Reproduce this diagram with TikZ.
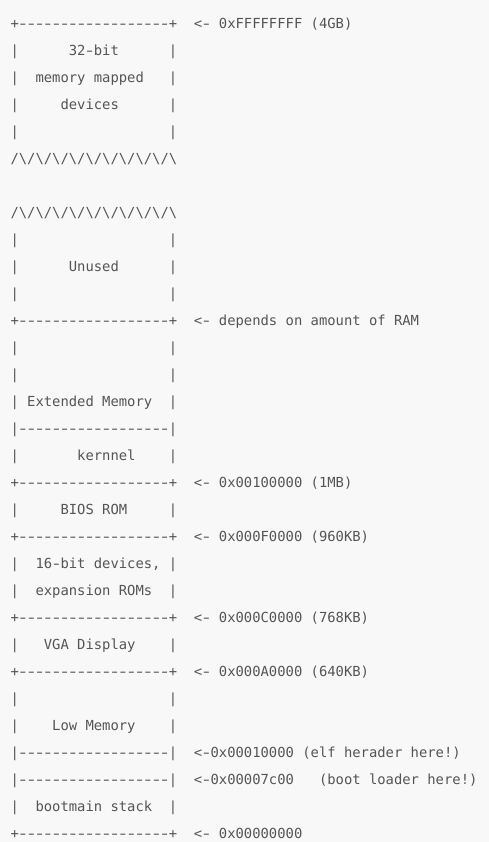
\documentclass[tikz,border=0pt]{standalone}
\usepackage{fontspec}
\usepackage{graphicx}
\setmonofont{DejaVu Sans Mono}
\definecolor{bgcol}{HTML}{F8F8F8}
\definecolor{txtcol}{HTML}{555555}
\newcommand\bsl{\textbackslash}
\newcommand\hy{\makebox[0.60205em][c]{\scalebox{1.4}[1]{-}}}
\newcommand\dashrow{\hy\hy\hy\hy\hy\hy\hy\hy\hy\hy\hy\hy\hy\hy\hy\hy\hy\hy}
\tikzset{
  asciiline/.style={anchor=base west, inner sep=0pt, outer sep=0pt, text=txtcol,
    font=\ttfamily\fontsize{13.85}{27}\selectfont}
}
\begin{document}
\begin{tikzpicture}[x=1pt,y=1pt]
\fill[bgcol] (0,0) rectangle (489,842);
\useasboundingbox (0,0) rectangle (489,842);
\def\X{10.5}
\node[asciiline] (l1)  at (\X,{842-28.3-27*0})  {+\dashrow+~~<\hy~0xFFFFFFFF~(4GB)};
\node[asciiline] (l2)  at (\X,{842-28.3-27*1})  {|~~~~~~32\hy bit~~~~~~|};
\node[asciiline] (l3)  at (\X,{842-28.3-27*2})  {|~~memory~mapped~~~|};
\node[asciiline] (l4)  at (\X,{842-28.3-27*3})  {|~~~~~devices~~~~~~|};
\node[asciiline] (l5)  at (\X,{842-28.3-27*4})  {|~~~~~~~~~~~~~~~~~~|};
\node[asciiline] (l6)  at (\X,{842-28.3-27*5})  {/\bsl/\bsl/\bsl/\bsl/\bsl/\bsl/\bsl/\bsl/\bsl/\bsl};
\node[asciiline] (l8)  at (\X,{842-28.3-27*7})  {/\bsl/\bsl/\bsl/\bsl/\bsl/\bsl/\bsl/\bsl/\bsl/\bsl};
\node[asciiline] (l9)  at (\X,{842-28.3-27*8})  {|~~~~~~~~~~~~~~~~~~|};
\node[asciiline] (l10) at (\X,{842-28.3-27*9})  {|~~~~~~Unused~~~~~~|};
\node[asciiline] (l11) at (\X,{842-28.3-27*10}) {|~~~~~~~~~~~~~~~~~~|};
\node[asciiline] (l12) at (\X,{842-28.3-27*11}) {+\dashrow+~~<\hy~depends~on~amount~of~RAM};
\node[asciiline] (l13) at (\X,{842-28.3-27*12}) {|~~~~~~~~~~~~~~~~~~|};
\node[asciiline] (l14) at (\X,{842-28.3-27*13}) {|~~~~~~~~~~~~~~~~~~|};
\node[asciiline] (l15) at (\X,{842-28.3-27*14}) {|~Extended~Memory~~|};
\node[asciiline] (l16) at (\X,{842-28.3-27*15}) {|\dashrow|};
\node[asciiline] (l17) at (\X,{842-28.3-27*16}) {|~~~~~~~kernnel~~~~|};
\node[asciiline] (l18) at (\X,{842-28.3-27*17}) {+\dashrow+~~<\hy~0x00100000~(1MB)};
\node[asciiline] (l19) at (\X,{842-28.3-27*18}) {|~~~~~BIOS~ROM~~~~~|};
\node[asciiline] (l20) at (\X,{842-28.3-27*19}) {+\dashrow+~~<\hy~0x000F0000~(960KB)};
\node[asciiline] (l21) at (\X,{842-28.3-27*20}) {|~~16\hy bit~devices,~|};
\node[asciiline] (l22) at (\X,{842-28.3-27*21}) {|~~expansion~ROMs~~|};
\node[asciiline] (l23) at (\X,{842-28.3-27*22}) {+\dashrow+~~<\hy~0x000C0000~(768KB)};
\node[asciiline] (l24) at (\X,{842-28.3-27*23}) {|~~~VGA~Display~~~~|};
\node[asciiline] (l25) at (\X,{842-28.3-27*24}) {+\dashrow+~~<\hy~0x000A0000~(640KB)};
\node[asciiline] (l26) at (\X,{842-28.3-27*25}) {|~~~~~~~~~~~~~~~~~~|};
\node[asciiline] (l27) at (\X,{842-28.3-27*26}) {|~~~~Low~Memory~~~~|};
\node[asciiline] (l28) at (\X,{842-28.3-27*27}) {|\dashrow|~~<\hy 0x00010000~(elf~herader~here!)};
\node[asciiline] (l29) at (\X,{842-28.3-27*28}) {|\dashrow|~~<\hy 0x00007c00~~~(boot~loader~here!)};
\node[asciiline] (l30) at (\X,{842-28.3-27*29}) {|~~bootmain~stack~~|};
\node[asciiline] (l31) at (\X,{842-28.3-27*30}) {+\dashrow+~~<\hy~0x00000000};
\end{tikzpicture}
\end{document}
